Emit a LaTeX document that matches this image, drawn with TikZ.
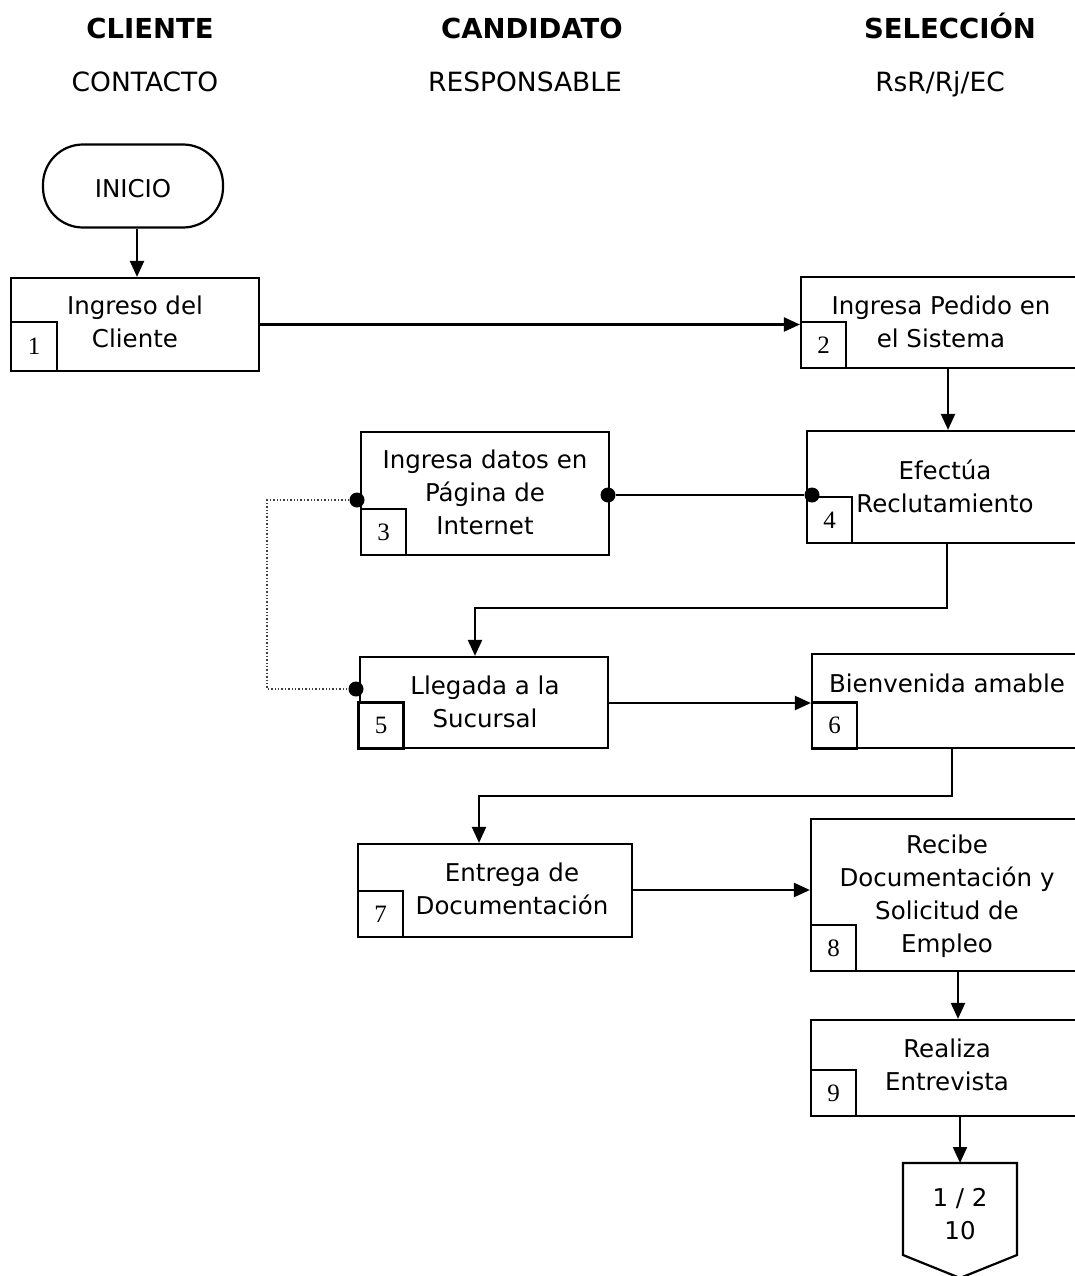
\documentclass[tikz,border=0pt]{standalone}
\usepackage{fontspec}
\setmainfont{DejaVu Sans}
\newfontfamily\numfont{Liberation Serif}
\usetikzlibrary{arrows.meta}
\newcommand{\nbx}[1]{\raisebox{-4pt}{#1}}
\tikzset{
  box/.style={draw, line width=2.2pt, inner sep=0pt},
  numbox/.style={draw, line width=2.2pt, inner sep=0pt, fill=white,
    font=\numfont\fontsize{25}{25}\selectfont, minimum width=45, minimum height=46},
  txt/.style={align=center, font=\fontsize{24.5}{33}\selectfont, inner sep=0pt},
  head/.style={font=\bfseries\fontsize{27.5}{30}\selectfont, inner sep=0pt, anchor=base},
  sub/.style={font=\fontsize{26.5}{30}\selectfont, inner sep=0pt, anchor=base},
  arr/.style={line width=2.2pt, -{Triangle[length=16pt,width=14pt]}},
  link/.style={line width=2.2pt},
  dotl/.style={line width=1.4pt, dotted, black!75},
  blob/.style={circle, fill, inner sep=0pt, minimum size=15pt},
}
\begin{document}
\begin{tikzpicture}[x=1pt,y=-1pt]
\useasboundingbox (0,0) rectangle (1075,1276);
\clip (0,0) rectangle (1075,1276);

% headers
\node[head] (h1) at (150,39) {CLIENTE};
\node[head] (h2) at (532,39) {CANDIDATO};
\node[head] (h3) at (950,39) {SELECCIÓN};
\node[sub] (s1) at (145,92) {CONTACTO};
\node[sub] (s2) at (525,92) {RESPONSABLE};
\node[sub] (s3) at (940,92) {RsR/Rj/EC};

% start
\node[draw, line width=2.2pt, rounded corners=40, minimum width=180, minimum height=83] (ini) at (133,186) {};
\node[txt] (tini) at (133,189) {INICIO};

% boxes
\node[box, minimum width=248, minimum height=93] (b1) at (135,324.5) {};
\node[box, minimum width=299, minimum height=91] (b2) at (950.5,322.5) {};
\node[box, minimum width=248, minimum height=123] (b3) at (485,493.5) {};
\node[box, minimum width=293, minimum height=112] (b4) at (953.5,487) {};
\node[box, minimum width=248, minimum height=91] (b5) at (484,702.5) {};
\node[box, minimum width=288, minimum height=94] (b6) at (956,701) {};
\node[box, minimum width=274, minimum height=93] (b7) at (495,890.5) {};
\node[box, minimum width=289, minimum height=152] (b8) at (955.5,895) {};
\node[box, minimum width=289, minimum height=96] (b9) at (955.5,1068) {};

% number boxes
\node[numbox, minimum width=46, minimum height=49] (n1) at (34,346.5) {\nbx{1}};
\node[numbox] (n2) at (823.5,345) {\nbx{2}};
\node[numbox] (n3) at (383.5,532) {\nbx{3}};
\node[numbox] (n4) at (829.5,520) {\nbx{4}};
\node[numbox] (n5) at (381,725.5) {\nbx{5}};
\node[numbox] (n6) at (834.5,725.5) {\nbx{6}};
\node[numbox] (n7) at (380.5,914) {\nbx{7}};
\node[numbox] (n8) at (833.5,948) {\nbx{8}};
\node[numbox] (n9) at (833.5,1093) {\nbx{9}};

% texts
\node[txt] (t1) at (135,321.5) {Ingreso del\\Cliente};
\node[txt] (t2) at (941,321.5) {Ingresa Pedido en\\el Sistema};
\node[txt] (t3) at (485,492.5) {Ingresa datos en\\Página de\\Internet};
\node[txt] (t4) at (945,486.5) {Efectúa\\Reclutamiento};
\node[txt] (t5) at (485,701.5) {Llegada a la\\Sucursal};
\node[txt] (t6) at (947,683) {Bienvenida amable};
\node[txt] (t7) at (512,888.5) {Entrega de\\Documentación};
\node[txt] (t8) at (947,896) {Recibe\\Documentación y\\Solicitud de\\Empleo};
\node[txt] (t9) at (947,1064.5) {Realiza\\Entrevista};

% off-page connector
\coordinate (c10) at (960,1163);
\draw[line width=2.2pt] (903,1163) -- (1017,1163) -- (1017,1255) -- (960,1278) -- (903,1255) -- cycle;
\node[txt] (t10) at (960,1214) {1 / 2\\10};

% connectors
\draw[arr] (ini.south -| 137,0) -- (b1.north -| 137,0);
\draw[arr] (b1.east) -- (b1.east -| b2.west);
\draw[arr] (b2.south -| 948,0) -- (b4.north -| 948,0);

\node[blob] (d3e) at (608,495) {};
\node[blob] (d4w) at (812,495) {};
\draw[link] (d3e) -- (d4w);

\node[blob] (d3w) at (357,500) {};
\node[blob] (d5w) at (356,689) {};
\coordinate (k0) at (267,500);
\draw[dotl] (d3w) -- (k0) |- (d5w);

\coordinate (k1) at (947,608);
\draw[arr] (b4.south -| k1) -- (k1) -| ([xshift=-9pt]b5.north);
\draw[arr] (b5.east |- 0,703) -- (b6.west |- 0,703);

\coordinate (k2) at (952,796);
\draw[arr] (b6.south -| k2) -- (k2) -| ([xshift=-16pt]b7.north);
\draw[arr] (b7.east |- 0,890) -- (b8.west |- 0,890);
\draw[arr] (b8.south -| 958,0) -- (b9.north -| 958,0);
\draw[arr] (b9.south -| c10) -- (c10);
\end{tikzpicture}
\end{document}
